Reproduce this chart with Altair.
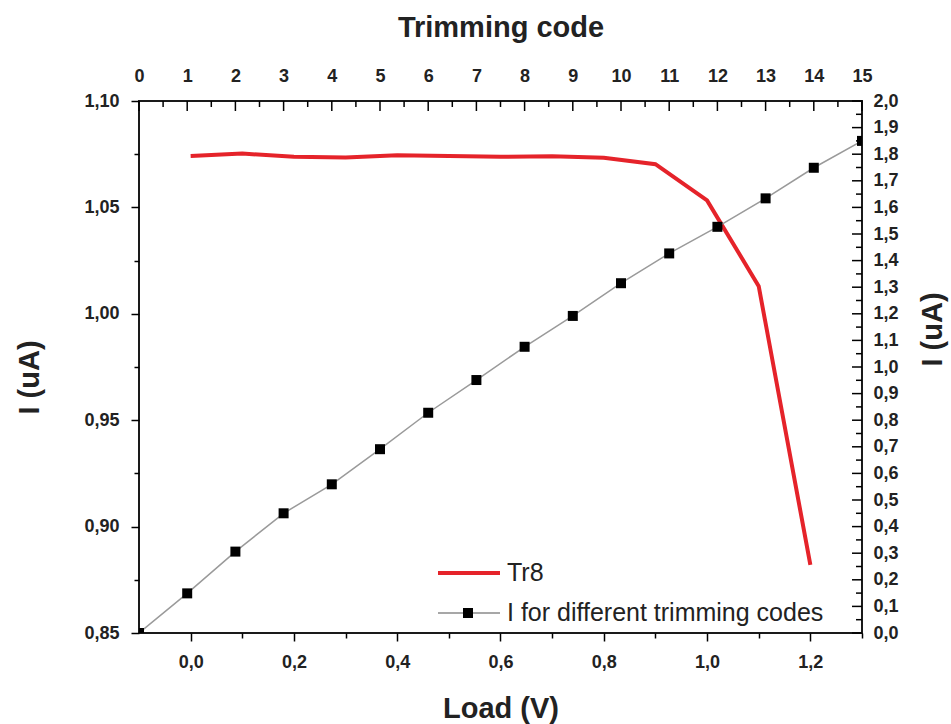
import altair as alt
import pandas as pd

# ---- data ----
load_v = [0.0, 0.1, 0.2, 0.3, 0.4, 0.5, 0.6, 0.7, 0.8, 0.9, 1.0, 1.1, 1.2]
tr8_current = [1.0742, 1.0753, 1.0738, 1.0734, 1.0745, 1.0742, 1.0738, 1.0740,
               1.0733, 1.0703, 1.0533, 1.0130, 0.8820]

trim_codes = [0, 1, 2, 3, 4, 5, 6, 7, 8, 9, 10, 11, 12, 13, 14, 15]
trim_current = [0.0, 0.149, 0.306, 0.450, 0.559, 0.691, 0.828, 0.951,
                1.076, 1.192, 1.315, 1.427, 1.527, 1.634, 1.749, 1.850]

legend_labels = ["Tr8", "I for different trimming codes"]

# axis tick values
load_ticks = [0.0, 0.1, 0.2, 0.3, 0.4, 0.5, 0.6, 0.7, 0.8, 0.9, 1.0, 1.1, 1.2, 1.3]
left_ticks = [0.85, 0.875, 0.90, 0.925, 0.95, 0.975, 1.00, 1.025, 1.05, 1.075, 1.10]
top_major = trim_codes
top_minor = [c + 0.5 for c in trim_codes[:-1]]
right_major = [round(i / 10, 1) for i in range(0, 21)]
right_minor = [round(i / 10 + 0.05, 2) for i in range(0, 20)]

W, H = 723, 532
FONT = "Liberation Sans"
RED = "#e5232a"
LBL = 18

tr8_df = pd.DataFrame({"load": load_v, "i": tr8_current})
trim_df = pd.DataFrame({"code": trim_codes, "i2": trim_current})


def comma(fmt):
    return f"replace(format(datum.value, '{fmt}'), '.', ',')"


bottom_major_test = "abs(datum.value*5 - round(datum.value*5)) < 0.001"
left_major_test = "abs(datum.value*20 - round(datum.value*20)) < 0.001"

x_bottom = alt.X(
    "load:Q",
    scale=alt.Scale(domain=[-0.1, 1.3], nice=False, zero=False),
    axis=alt.Axis(
        orient="bottom", title="Load (V)", values=load_ticks,
        labelExpr=f"{bottom_major_test} ? {comma('.1f')} : ''",
        tickSize={"condition": {"test": bottom_major_test, "value": 8}, "value": 5},
        tickColor="black", tickWidth=1.5, domain=False,
        labelFont=FONT, labelFontSize=LBL, labelFontWeight="bold", labelColor="#222",
        labelPadding=12, labelOverlap=False, labelFlush=False,
        titleFont=FONT, titleFontSize=29, titleFontWeight="bold", titleColor="#222",
        titlePadding=23, grid=False,
    ),
)
y_left = alt.Y(
    "i:Q",
    scale=alt.Scale(domain=[0.85, 1.10], nice=False, zero=False),
    axis=alt.Axis(
        orient="left", title="I (uA)", values=left_ticks,
        labelExpr=f"{left_major_test} ? {comma('.2f')} : ''",
        tickSize={"condition": {"test": left_major_test, "value": 8}, "value": 5},
        tickColor="black", tickWidth=1.5, domain=False,
        labelFont=FONT, labelFontSize=LBL, labelFontWeight="bold", labelColor="#222",
        labelPadding=12, labelOverlap=False, labelFlush=False,
        titleFont=FONT, titleFontSize=29, titleFontWeight="bold", titleColor="#222",
        titlePadding=39, titleY=276, grid=False,
    ),
)

red_line = alt.Chart(tr8_df).mark_line(color=RED, strokeWidth=4).encode(
    x=x_bottom, y=y_left
)

# manual legend
one = pd.DataFrame({"label": legend_labels})
leg_red = alt.Chart(one.iloc[[0]]).mark_rule(color=RED, strokeWidth=4).encode(
    x=alt.value(299), x2=alt.value(361), y=alt.value(472)
)
leg_red_text = alt.Chart(one.iloc[[0]]).mark_text(
    align="left", baseline="middle", font=FONT, fontSize=25, color="#222"
).encode(x=alt.value(368), y=alt.value(472), text="label:N")
leg_gray = alt.Chart(one.iloc[[1]]).mark_rule(color="#8a8a8a", strokeWidth=1.5).encode(
    x=alt.value(299), x2=alt.value(361), y=alt.value(512)
)
leg_sq = alt.Chart(one.iloc[[1]]).mark_square(color="black", size=100, opacity=1).encode(
    x=alt.value(329), y=alt.value(512)
)
leg_gray_text = alt.Chart(one.iloc[[1]]).mark_text(
    align="left", baseline="middle", font=FONT, fontSize=25, color="#222"
).encode(x=alt.value(368), y=alt.value(512), text="label:N")

left_layer = alt.layer(red_line, leg_red, leg_red_text, leg_gray, leg_sq, leg_gray_text)

x_top_scale = alt.Scale(domain=[0, 15], nice=False, zero=False)
y_right_scale = alt.Scale(domain=[0, 2], nice=False, zero=False)

x_top_axis = alt.Axis(
    orient="top", title="Trimming code", values=top_major,
    labelExpr="format(datum.value, 'd')",
    ticks=False, tickSize=0, domain=False,
    labelFont=FONT, labelFontSize=LBL, labelFontWeight="bold", labelColor="#222",
    labelPadding=16, labelOverlap=False, labelFlush=False,
    titleFont=FONT, titleFontSize=29, titleFontWeight="bold", titleColor="#222",
    titlePadding=25, grid=False,
)
y_right_axis = alt.Axis(
    orient="right", title="I (uA)", values=right_major,
    labelExpr=comma(".1f"),
    ticks=False, tickSize=0, domain=False,
    labelFont=FONT, labelFontSize=LBL, labelFontWeight="bold", labelColor="#222",
    labelPadding=11, labelOverlap=False, labelFlush=False,
    titleFont=FONT, titleFontSize=29, titleFontWeight="bold", titleColor="#222",
    titlePadding=20, titleAngle=270, titleBaseline="top", titleY=228, grid=False,
)


def x_top():
    return alt.X("code:Q", scale=x_top_scale, axis=x_top_axis)


def y_right():
    return alt.Y("i2:Q", scale=y_right_scale, axis=y_right_axis)


gray_line = alt.Chart(trim_df).mark_line(color="#9a9a9a", strokeWidth=1.5, clip=True).encode(
    x=x_top(), y=y_right()
)
squares = alt.Chart(trim_df).mark_square(color="black", size=100, opacity=1, clip=True).encode(
    x=x_top(), y=y_right()
)

top_maj_df = pd.DataFrame({"code": top_major})
top_min_df = pd.DataFrame({"code": top_minor})
right_maj_df = pd.DataFrame({"i2": right_major})
right_min_df = pd.DataFrame({"i2": right_minor})

tick_style = dict(color="black", strokeWidth=1.5)
top_maj = alt.Chart(top_maj_df).mark_rule(**tick_style).encode(
    x=x_top(), y=alt.value(0), y2=alt.value(10)
)
top_min = alt.Chart(top_min_df).mark_rule(**tick_style).encode(
    x=x_top(), y=alt.value(0), y2=alt.value(6)
)
right_maj = alt.Chart(right_maj_df).mark_rule(**tick_style).encode(
    y=y_right(), x=alt.value(W), x2=alt.value(W - 10)
)
right_min = alt.Chart(right_min_df).mark_rule(**tick_style).encode(
    y=y_right(), x=alt.value(W), x2=alt.value(W - 6)
)

right_layer = alt.layer(gray_line, squares, top_maj, top_min, right_maj, right_min)

chart = (
    alt.layer(left_layer, right_layer)
    .resolve_scale(x="independent", y="independent")
    .resolve_axis(x="independent", y="independent")
    .properties(
        width=W, height=H,
        autosize=alt.AutoSizeParams(type="none"),
        padding={"left": 139, "top": 101, "right": 89, "bottom": 91},
        background="white",
    )
    .configure_view(stroke="#1a1a1a", strokeWidth=2)
)

chart.save("out.html", embed_options={"renderer": "svg", "actions": False})
